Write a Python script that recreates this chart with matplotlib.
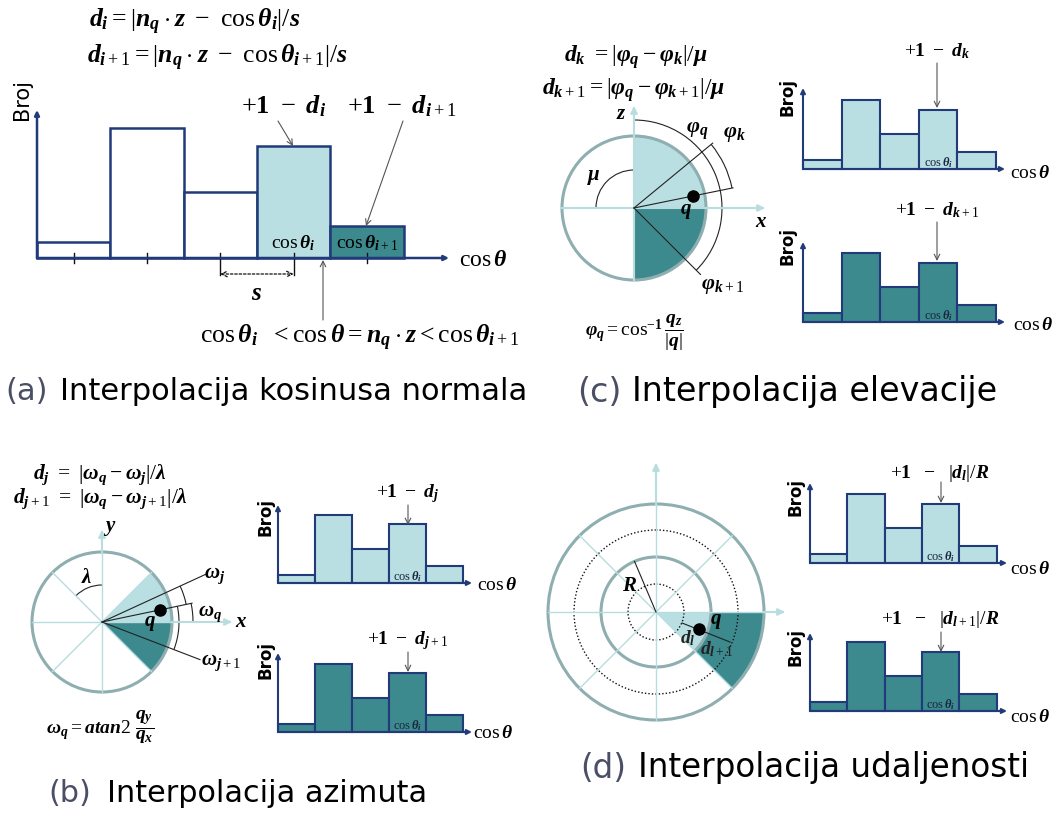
import numpy as np
import matplotlib
matplotlib.use("Agg")
import matplotlib.pyplot as plt
from matplotlib.patches import Circle, Wedge, Arc

plt.rcParams['mathtext.fontset'] = 'custom'
plt.rcParams['mathtext.rm'] = 'Liberation Serif'
plt.rcParams['mathtext.it'] = 'Liberation Serif:italic:bold'
plt.rcParams['mathtext.bf'] = 'Liberation Serif:bold'
plt.rcParams['font.family'] = ['DejaVu Sans']

# ---- data ----
bins = [0, 1, 2, 3, 4]
counts = [1.0, 8.0, 4.05, 6.9, 2.0]
fill_a = ['white', 'white', 'white', 'light', 'dark']
captions = ['Interpolacija kosinusa normala', 'Interpolacija azimuta',
            'Interpolacija elevacije', 'Interpolacija udaljenosti']
tags = ['(a)', '(b)', '(c)', '(d)']

W, H = 1059, 814
light = '#b9dfe2'
dark = '#3d8a8e'
navy = '#213a7a'
ring = '#8eaeb0'
axc = '#b7dde1'
col = {'white': 'white', 'light': light, 'dark': dark}

fig = plt.figure(figsize=(W / 100, H / 100), dpi=100)
ax = fig.add_axes([0, 0, 1, 1])
ax.set_xlim(0, W)
ax.set_ylim(H, 0)
ax.axis('off')
ax.set_zorder(10)
ax.patch.set_visible(False)


def pt(c, r, a):
    return c[0] + r * np.cos(np.radians(a)), c[1] - r * np.sin(np.radians(a))


def ray(c, r, a, lw=0.8, color='#222222'):
    x, y = pt(c, r, a)
    ax.plot([c[0], x], [c[1], y], color=color, lw=lw)


def arc(c, r, a1, a2, lw=0.8, color='#222222'):
    ax.add_patch(Arc(c, 2 * r, 2 * r, theta1=-a2, theta2=-a1, color=color, lw=lw))


def wedge(c, r, a1, a2, color, width=None):
    ax.add_patch(Wedge(c, r, -a2, -a1, width=width, facecolor=color, edgecolor='none'))


def arrow(x1, y1, x2, y2, color='#555555', lw=0.8, style='->'):
    ax.annotate('', xy=(x2, y2), xytext=(x1, y1),
                arrowprops=dict(arrowstyle=style, color=color, lw=lw, shrinkA=0, shrinkB=0))


def math(x, y, s, size=15, **kw):
    ax.text(x, y, s, fontsize=size, ha=kw.pop('ha', 'center'), va=kw.pop('va', 'center'), **kw)


def hist(x0, y0, xend, ytop, bw, upx, fills, lab=r'$\mathrm{cos}\,\theta_i$', labsize=9, lw=1.5):
    axh = fig.add_axes([x0 / W, 1 - y0 / H, (xend - x0) / W, (y0 - ytop) / H])
    axh.set_xlim(0, (xend - x0) / bw)
    axh.set_ylim(0, (y0 - ytop) / upx)
    axh.axis('off')
    axh.bar(bins, counts, width=1, align='edge', color=[col[f] for f in fills],
            edgecolor=navy, lw=lw, clip_on=False)
    for xy in [(1, 0), (0, 1)]:
        axh.annotate('', xy=xy, xytext=(0, 0), xycoords='axes fraction',
                     arrowprops=dict(arrowstyle='-|>', color=navy, lw=lw,
                                     mutation_scale=7, shrinkA=0, shrinkB=0))
    if lab:
        axh.text(3.5, 6 / upx, lab, fontsize=labsize, ha='center', va='center', color='#1a2540')
    return axh


# ================= (a) =================
ha_ = hist(37, 258, 449, 110, 73.3, 130 / 8, fill_a, lab=None, lw=1.8)
ha_.text(3.5, 15 / 16.25, r'$\mathrm{cos}\,\theta_i$', fontsize=14, ha='center', va='center')
ha_.text(4.5, 15 / 16.25, r'$\mathrm{cos}\,\theta_{i+1}$', fontsize=14, ha='center', va='center')
for b in bins:
    lo = -17 / 16.25 if b in (2, 3) else -5 / 16.25
    ha_.plot([b + 0.5, b + 0.5], [lo, 5 / 16.25], color='#111111', lw=1, clip_on=False)
ha_.annotate('', xy=(3.5, -16 / 16.25), xytext=(2.5, -16 / 16.25),
             arrowprops=dict(arrowstyle='<->', color='#111111', lw=0.9, ls=(0, (2, 1.5)),
                             shrinkA=0, shrinkB=0), annotation_clip=False)
ha_.text(3.0, -35 / 16.25, r'$s$', fontsize=18, ha='center', va='center')

math(195, 22, r'$d_i = |n_q \cdot z\ -\ \mathrm{cos}\,\theta_i|/s$', 18.5)
math(217, 58, r'$d_{i+1} = |n_q \cdot z\ -\ \mathrm{cos}\,\theta_{i+1}|/s$', 18.5)
math(284, 106, r'$+\mathbf{1}\ -\ d_i$', 19)
math(402, 106, r'$+\mathbf{1}\ -\ d_{i+1}$', 19)
arrow(278, 121, 293, 146)
arrow(403, 121, 366, 226)
arrow(323, 320, 323, 260)
math(360, 338, r'$\mathrm{cos}\,\theta_i\ \ < \mathrm{cos}\,\theta = n_q \cdot z < \mathrm{cos}\,\theta_{i+1}$', 18.5)
math(483, 259, r'$\mathrm{cos}\,\theta$', 17)
ax.text(22, 100, 'Broj', rotation=90, fontsize=15, ha='center', va='center')

# ================= (c) =================
hist(803, 169, 1005, 88, 38.6, 8.6, ['light'] * 5)
hist(803, 322, 1005, 242, 38.6, 8.6, ['dark'] * 5)
math(636, 57, r'$d_k\ = |\varphi_q - \varphi_k|/\mu$', 17)
math(634, 90, r'$d_{k+1} = |\varphi_q - \varphi_{k+1}|/\mu$', 17)
math(937, 51, r'$+\mathbf{1}\ -\ d_k$', 14)
math(937, 210, r'$+\mathbf{1}\ -\ d_{k+1}$', 14)
arrow(937, 63, 937, 108)
arrow(937, 222, 937, 261)
for y in (97, 246):
    ax.text(788, y, 'Broj', rotation=90, fontsize=12, fontweight='bold', ha='center', va='center')
math(1030, 172, r'$\mathrm{cos}\,\theta$', 14)
math(1033, 324, r'$\mathrm{cos}\,\theta$', 14)

cc = (634, 208)
wedge(cc, 72, 0, 90, light)
wedge(cc, 72, -90, 0, dark)
ax.plot([cc[0] - 72, 763], [cc[1], cc[1]], color=axc, lw=1.5)
ax.plot([cc[0], cc[0]], [cc[1] + 72, 108], color=axc, lw=1.5)
arrow(755, cc[1], 765, cc[1], color=axc, lw=1.5, style='-|>')
arrow(cc[0], 116, cc[0], 106, color=axc, lw=1.5, style='-|>')
ax.add_patch(Circle(cc, 72, fill=False, ec=ring, lw=2.2))
ray(cc, 102, 39.5)
ray(cc, 101, 11.5)
ray(cc, 94, -45)
arc(cc, 88, -45, 90)
arc(cc, 100, 11.5, 39.5)
arc(cc, 38, 90, 180)
ax.plot(*pt(cc, 60, 11.5), 'o', color='black', ms=8)
math(594, 177, r'$\mu$', 15)
math(621, 113, r'$z$', 15)
math(761, 221, r'$x$', 15)
math(686, 211, r'$q$', 15)
math(697, 131, r'$\varphi_q$', 16)
math(734, 134, r'$\varphi_k$', 16)
math(723, 286, r'$\varphi_{k+1}$', 16)
math(634, 333, r'$\varphi_q = \mathrm{cos}^{-\mathbf{1}}\,\dfrac{q_z}{|q|}$', 14)

# ================= (b) =================
hist(278, 583, 472, 505, 37.0, 8.5, ['light'] * 5)
hist(278, 732, 472, 653, 37.0, 8.5, ['dark'] * 5)
math(100, 475, r'$d_j\ =\ |\omega_q - \omega_j|/\lambda$', 15.5)
math(100, 499, r'$d_{j+1}\ =\ |\omega_q - \omega_{j+1}|/\lambda$', 15.5)
math(408, 494, r'$+\mathbf{1}\ -\ d_j$', 14)
math(408, 641, r'$+\mathbf{1}\ -\ d_{j+1}$', 14)
arrow(408, 505, 408, 525)
arrow(408, 652, 408, 672)
for y in (517, 660):
    ax.text(265, y, 'Broj', rotation=90, fontsize=12, fontweight='bold', ha='center', va='center')
math(497, 585, r'$\mathrm{cos}\,\theta$', 14)
math(493, 733, r'$\mathrm{cos}\,\theta$', 14)

cb = (102, 622)
wedge(cb, 70, 0, 45, light)
wedge(cb, 70, -45, 0, dark)
for a in range(0, 360, 45):
    ray(cb, 70, a, lw=1, color=axc)
ax.plot([cb[0] + 70, 230], [cb[1], cb[1]], color=axc, lw=1.5)
ax.plot([cb[0], cb[0]], [cb[1] - 70, 532], color=axc, lw=1.5)
arrow(222, cb[1], 232, cb[1], color=axc, lw=1.5, style='-|>')
arrow(cb[0], 540, cb[0], 530, color=axc, lw=1.5, style='-|>')
ax.add_patch(Circle(cb, 70, fill=False, ec=ring, lw=2.2))
ray(cb, 116, 24.7)
ray(cb, 92, 11.8)
ray(cb, 105, -21)
arc(cb, 86, 11.8, 24.7)
arc(cb, 77, -21, 11.8)
arc(cb, 91, 0, 11.8)
arc(cb, 37, 90, 135)
ax.plot(*pt(cb, 59, 12), 'o', color='black', ms=8)
math(87, 577, r'$\lambda$', 15)
math(110, 528, r'$y$', 15)
math(241, 621, r'$x$', 15)
math(150, 623, r'$q$', 15)
math(215, 576, r'$\omega_j$', 15)
math(210, 614, r'$\omega_q$', 15)
math(221, 663, r'$\omega_{j+1}$', 15)
math(100, 727, r'$\omega_q = atan2\ \dfrac{q_y}{q_x}$', 14)

# ================= (d) =================
hist(810, 563, 1007, 483, 37.3, 8.6, ['light'] * 5)
hist(810, 711, 1007, 633, 37.3, 8.6, ['dark'] * 5)
math(940, 473, r'$+\mathbf{1}\ \ -\ \ |d_l|/R$', 14)
math(940, 620, r'$+\mathbf{1}\ \ -\ \ |d_{l+1}|/R$', 14)
arrow(941, 482, 941, 503)
arrow(941, 632, 941, 652)
for y in (497, 647):
    ax.text(795, y, 'Broj', rotation=90, fontsize=12, fontweight='bold', ha='center', va='center')
math(1030, 568, r'$\mathrm{cos}\,\theta$', 14)
math(1030, 717, r'$\mathrm{cos}\,\theta$', 14)

cd = (656, 612)
wedge(cd, 55, -45, 0, light)
wedge(cd, 108, -45, 0, dark, width=53)
for a in range(0, 360, 45):
    ray(cd, 108, a, lw=1, color=axc)
ax.plot([cd[0] + 108, 783], [cd[1], cd[1]], color=axc, lw=1.5)
ax.plot([cd[0], cd[0]], [cd[1] - 108, 465], color=axc, lw=1.5)
arrow(775, cd[1], 785, cd[1], color=axc, lw=1.5, style='-|>')
arrow(cd[0], 473, cd[0], 463, color=axc, lw=1.5, style='-|>')
ax.add_patch(Circle(cd, 108, fill=False, ec=ring, lw=2.2))
ax.add_patch(Circle(cd, 55, fill=False, ec=ring, lw=2.2))
ax.add_patch(Circle(cd, 82, fill=False, ec='#111111', lw=1, ls=(0, (1, 1.5))))
ax.add_patch(Circle(cd, 28, fill=False, ec='#111111', lw=1, ls=(0, (1, 1.5))))
ray(cd, 55, 113)
ax.plot([682, 730], [623, 642], color='#222222', lw=0.8)
ax.plot(699, 629, 'o', color='black', ms=8)
math(630, 585, r'$R$', 15)
math(716, 621, r'$q$', 15)
ax.text(688, 638, r'$d_l$', fontsize=14, ha='center', va='center', color='#222222')
ax.text(717, 649, r'$d_{l+1}$', fontsize=14, ha='center', va='center', color='#222222')

# ================= captions =================
cap_pos = [(5, 60, 392, 22), (48, 107, 793, 21.8), (577, 632, 392, 24), (580, 638, 768, 23.5)]
for tag, cap, (xt, xc, yc, fs) in zip(tags, captions, cap_pos):
    ax.text(xt, yc, tag, fontsize=fs, ha='left', va='center', color='#4a4f66')
    ax.text(xc, yc, cap, fontsize=fs, ha='left', va='center', color='black')

fig.savefig('out.png', dpi=100)
